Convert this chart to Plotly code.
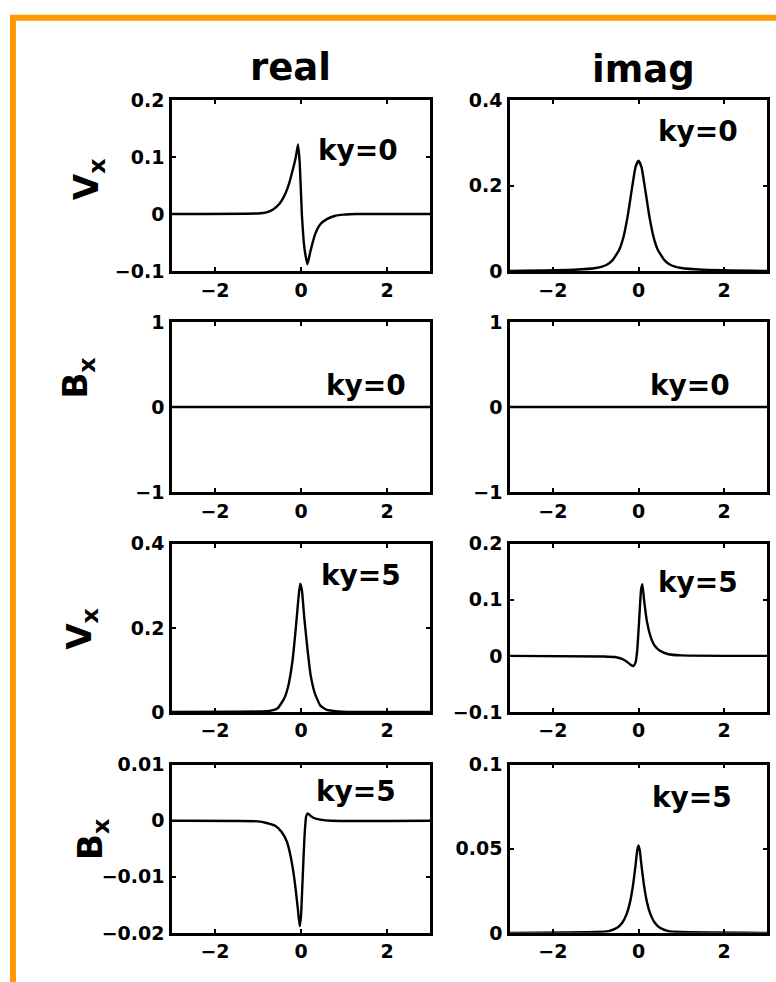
import plotly.graph_objects as go

# ---------------- data ----------------
x_r1_real = [-3, -1.0, -0.8, -0.65, -0.5, -0.4, -0.3, -0.2, -0.12, -0.07, -0.03, 0.02, 0.08, 0.15, 0.22, 0.33, 0.45, 0.6, 0.8, 1.0, 1.3, 3]
y_r1_real = [0, 0.001, 0.003, 0.008, 0.018, 0.03, 0.048, 0.075, 0.1, 0.122, 0.09, 0.0, -0.06, -0.088, -0.065, -0.035, -0.018, -0.009, -0.003, -0.001, 0, 0]

x_r1_imag = [-3, -1.5, -1.0, -0.75, -0.6, -0.45, -0.35, -0.25, -0.15, -0.07, 0, 0.07, 0.15, 0.25, 0.35, 0.45, 0.6, 0.75, 1.0, 1.5, 3]
y_r1_imag = [0, 0.003, 0.007, 0.014, 0.026, 0.05, 0.08, 0.13, 0.195, 0.243, 0.258, 0.243, 0.195, 0.13, 0.08, 0.05, 0.026, 0.014, 0.007, 0.003, 0]

x_r2_real = [-3, 3]
y_r2_real = [0, 0]
x_r2_imag = [-3, 3]
y_r2_imag = [0, 0]

x_r3_real = [-3, -1.0, -0.7, -0.55, -0.4, -0.3, -0.2, -0.12, -0.06, -0.02, 0.02, 0.08, 0.15, 0.22, 0.32, 0.45, 0.6, 0.8, 1.2, 3]
y_r3_real = [0, 0.001, 0.003, 0.008, 0.03, 0.06, 0.12, 0.2, 0.27, 0.305, 0.29, 0.22, 0.15, 0.09, 0.045, 0.015, 0.005, 0.002, 0.0, 0]

x_r3_imag = [-3, -0.8, -0.55, -0.4, -0.28, -0.18, -0.12, -0.07, -0.03, 0.02, 0.06, 0.09, 0.13, 0.2, 0.28, 0.38, 0.5, 0.7, 1.0, 3]
y_r3_imag = [0, -0.001, -0.002, -0.005, -0.01, -0.016, -0.018, -0.012, 0.01, 0.07, 0.118, 0.128, 0.1, 0.06, 0.035, 0.018, 0.009, 0.003, 0.001, 0]

x_r4_real = [-3, -1.0, -0.8, -0.6, -0.45, -0.33, -0.25, -0.18, -0.12, -0.07, -0.03, 0.0, 0.04, 0.08, 0.12, 0.16, 0.22, 0.3, 0.45, 0.7, 3]
y_r4_real = [0, -0.0001, -0.0004, -0.0009, -0.002, -0.0037, -0.006, -0.009, -0.0125, -0.016, -0.0188, -0.017, -0.01, -0.003, 0.0008, 0.0013, 0.0009, 0.0005, 0.0002, 0.0, 0]

x_r4_imag = [-3, -1.0, -0.7, -0.5, -0.38, -0.28, -0.2, -0.13, -0.07, -0.03, 0, 0.03, 0.07, 0.13, 0.2, 0.28, 0.38, 0.5, 0.7, 1.0, 3]
y_r4_imag = [0, 0.0005, 0.001, 0.003, 0.006, 0.011, 0.018, 0.028, 0.04, 0.049, 0.052, 0.049, 0.04, 0.028, 0.018, 0.011, 0.006, 0.003, 0.001, 0.0005, 0]

x_ticks = [-2, 0, 2]
x_tick_text = ["\u22122", "0", "2"]

y_ranges = [[-0.1, 0.2], [0, 0.4], [-1, 1], [-1, 1], [0, 0.4], [-0.1, 0.2], [-0.02, 0.01], [0, 0.1]]
y_ticks = [[-0.1, 0, 0.1, 0.2], [0, 0.2, 0.4], [-1, 0, 1], [-1, 0, 1], [0, 0.2, 0.4], [-0.1, 0, 0.1, 0.2], [-0.02, -0.01, 0, 0.01], [0, 0.05, 0.1]]
y_tick_text = [["\u22120.1", "0", "0.1", "0.2"], ["0", "0.2", "0.4"], ["\u22121", "0", "1"], ["\u22121", "0", "1"],
               ["0", "0.2", "0.4"], ["\u22120.1", "0", "0.1", "0.2"], ["\u22120.02", "\u22120.01", "0", "0.01"], ["0", "0.05", "0.1"]]

column_titles = ["real", "imag"]
row_labels = ["V<sub>x</sub>", "B<sub>x</sub>", "V<sub>x</sub>", "B<sub>x</sub>"]
panel_labels = ["ky=0", "ky=0", "ky=0", "ky=0", "ky=5", "ky=5", "ky=5", "ky=5"]

series = [(x_r1_real, y_r1_real), (x_r1_imag, y_r1_imag), (x_r2_real, y_r2_real), (x_r2_imag, y_r2_imag),
          (x_r3_real, y_r3_real), (x_r3_imag, y_r3_imag), (x_r4_real, y_r4_real), (x_r4_imag, y_r4_imag)]

# ---------------- layout geometry (pixels) ----------------
W, H = 776, 982
col_px = [(172, 430), (510, 767)]
row_px = [(91, 266), (318, 492), (545, 717), (771, 943)]

FONT = "DejaVu Sans"

fig = go.Figure()
layout = dict(width=W, height=H, margin=dict(l=0, r=0, t=0, b=0),
              paper_bgcolor="white", plot_bgcolor="white", showlegend=False)

annotations = []
for i, (xs, ys) in enumerate(series):
    r, c = divmod(i, 2)
    n = i + 1
    xa = "x" if n == 1 else f"x{n}"
    ya = "y" if n == 1 else f"y{n}"
    fig.add_trace(go.Scatter(x=xs, y=ys, mode="lines", xaxis=xa, yaxis=ya,
                             line=dict(color="black", width=2.4, shape="spline", smoothing=0.45),
                             hoverinfo="skip"))
    x0, x1 = col_px[c]
    y0, y1 = row_px[r]
    common = dict(showline=True, linecolor="black", linewidth=2.5, mirror="ticks",
                  ticks="inside", ticklen=4, tickwidth=1.5, tickcolor="black",
                  showgrid=False, zeroline=False,
                  tickfont=dict(family=FONT, size=19, color="black", weight="bold"))
    layout["xaxis" if n == 1 else f"xaxis{n}"] = dict(
        domain=[x0 / W, x1 / W], range=[-3, 3], anchor=ya,
        tickvals=x_ticks, ticktext=x_tick_text, ticklabelstandoff=0, **common)
    layout["yaxis" if n == 1 else f"yaxis{n}"] = dict(
        domain=[1 - y1 / H, 1 - y0 / H], range=y_ranges[i], anchor=xa,
        tickvals=y_ticks[i], ticktext=y_tick_text[i], ticklabelstandoff=1, **common)

# panel labels
label_pos = [(358, 143), (698, 123), (366, 383), (690, 383), (361, 577), (698, 585), (356, 798), (692, 805)]
for txt, (px, py) in zip(panel_labels, label_pos):
    annotations.append(dict(text=txt, x=px / W, y=1 - py / H, xref="paper", yref="paper",
                            showarrow=False, xanchor="center", yanchor="middle",
                            font=dict(family=FONT, size=28, color="black", weight="bold")))

# column titles
for txt, (px, py) in zip(column_titles, [(290, 58), (643, 60)]):
    annotations.append(dict(text=txt, x=px / W, y=1 - py / H, xref="paper", yref="paper",
                            showarrow=False, xanchor="center", yanchor="middle",
                            font=dict(family=FONT, size=37, color="black", weight="bold")))

# row labels
for txt, (px, py) in zip(row_labels, [(88, 172), (78, 376), (82, 632), (92, 848)]):
    annotations.append(dict(text=txt, x=px / W, y=1 - py / H, xref="paper", yref="paper",
                            showarrow=False, xanchor="center", yanchor="middle", textangle=-90,
                            font=dict(family=FONT, size=34, color="black", weight="bold")))

layout["annotations"] = annotations
layout["shapes"] = [dict(type="rect", xref="paper", yref="paper",
                         x0=13 / W, x1=1.05, y0=-0.05, y1=1 - 7 / H,
                         line=dict(color="#FF9A00", width=6), fillcolor="rgba(0,0,0,0)", layer="above")]

fig.update_layout(**layout)
fig.write_html("out.html")
